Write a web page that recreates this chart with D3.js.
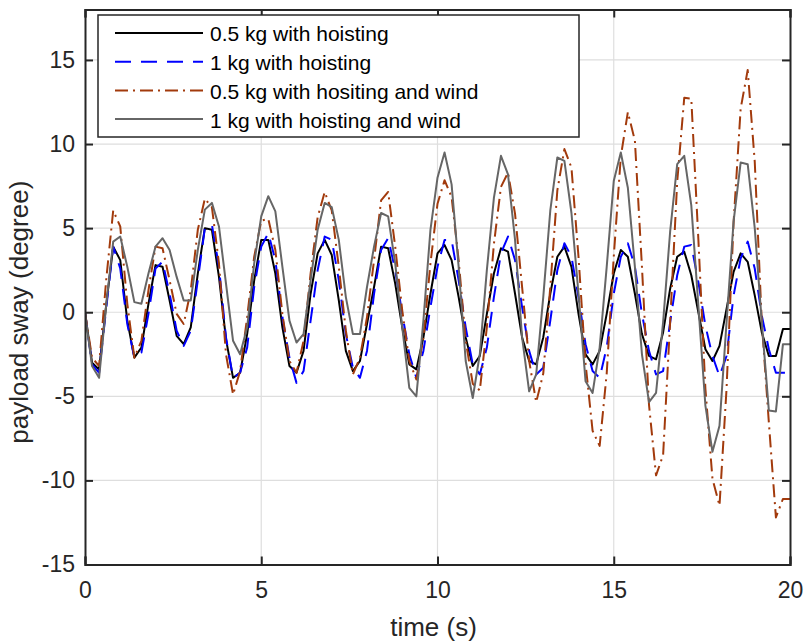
<!DOCTYPE html>
<html>
<head>
<meta charset="utf-8">
<script src="https://cdn.jsdelivr.net/npm/d3@7"></script>
<style>
  body { margin: 0; background: #fff; }
  svg { display: block; font-family: "Liberation Sans", Arial, sans-serif; }
</style>
</head>
<body>
<div id="chart"></div>
<script>
// sample times: 0 to 20 s, every 0.2 s
const dt = 0.2;

// payload sway (degree) per series, one value per sample
const sway05 = [
  0, -3.0, -3.4, 0.4, 3.9, 3.1, -0.5, -2.7, -2.1, 0.5,
  2.8, 2.7, 0.7, -1.4, -1.9, -0.9, 2.3, 5.0, 4.9, 2.1,
  -1.6, -3.9, -3.6, -1.3, 1.9, 4.3, 4.3, 2.3, -0.9, -3.2,
  -3.6, -2.3, 1.1, 3.5, 4.3, 3.4, 0.7, -2.3, -3.5, -2.9,
  -0.7, 1.5, 3.9, 3.8, 1.7, -0.9, -3.1, -3.4, -1.5, 1.1,
  3.5, 4.0, 3.1, 0.9, -1.5, -3.2, -2.6, -0.1, 2.3, 3.8,
  3.6, 1.1, -1.5, -2.9, -3.1, -1.5, 1.1, 3.3, 3.9, 2.7,
  -0.1, -2.5, -3.1, -2.3, -0.1, 2.3, 3.7, 3.3, 1.1, -1.3,
  -2.6, -2.8, -1.2, 1.4, 3.3, 3.6, 2.2, 0.0, -2.2, -2.9,
  -2.0, 0.2, 2.4, 3.5, 3.0, 1.0, -1.2, -2.6, -2.6, -1.0,
  -1.0
];
const sway1 = [
  0, -3.1, -3.6, 0.2, 3.9, 2.6, -0.7, -2.7, -2.4, -0.1,
  2.6, 3.0, 1.1, -1.1, -2.0, -1.1, 1.9, 5.0, 5.2, 2.7,
  -1.5, -3.9, -3.6, -2.1, 1.5, 3.9, 4.7, 3.1, -0.3, -2.7,
  -4.2, -3.5, -0.5, 2.5, 4.5, 4.3, 1.9, -1.3, -3.3, -3.9,
  -2.3, 1.1, 3.7, 4.4, 2.5, -0.1, -2.5, -3.9, -2.3, 0.3,
  2.7, 4.3, 4.3, 1.9, -0.9, -3.1, -3.7, -2.1, 0.9, 3.5,
  4.5, 3.1, 0.3, -2.3, -3.7, -3.3, -0.5, 2.5, 4.1, 3.3,
  0.9, -1.9, -3.5, -3.9, -2.1, 1.1, 3.3, 4.1, 2.7, -0.1,
  -2.3, -3.7, -3.5, -0.6, 2.2, 3.9, 4.0, 1.8, -0.8, -2.6,
  -3.8, -2.6, 1.0, 3.2, 4.2, 2.6, -0.2, -2.2, -3.6, -3.6,
  -3.6
];
const sway05wind = [
  0, -2.7, -3.2, 1.9, 6.05, 5.1, 0.5, -2.7, -1.7, 1.3,
  3.9, 3.8, 1.9, -0.1, -0.7, 1.3, 4.9, 6.75, 6.25, 2.9,
  -2.5, -4.9, -3.5, -0.3, 3.3, 5.45, 5.55, 3.7, -0.1, -2.9,
  -3.6, -1.7, 2.3, 5.65, 7.15, 6.05, 2.7, -1.1, -3.7, -2.7,
  -0.3, 3.1, 6.65, 7.15, 3.9, 0.1, -2.9, -4.0, -1.5, 2.9,
  6.45, 7.85, 6.85, 3.1, -1.7, -4.25, -4.65, -0.9, 4.05, 7.45,
  8.3, 5.85, 1.5, -2.9, -5.35, -3.65, 1.5, 7.25, 9.7, 8.6,
  3.3, -3.05, -7.05, -7.95, -3.65, 3.3, 9.25, 11.9, 10.2, 2.7,
  -5.5, -9.7, -8.5, -0.6, 7.75, 12.75, 12.7, 4.35, -4.55, -9.9,
  -11.5, -4.55, 5.35, 12.1, 14.4, 8.95, -0.6, -6.55, -12.2, -11.1,
  -11.1
];
const sway1wind = [
  0, -3.2, -3.9, 0.4, 4.2, 4.5, 2.7, 0.6, 0.5, 2.3,
  3.9, 4.4, 3.7, 2.1, 0.7, 0.7, 3.7, 6.1, 6.5, 5.1,
  1.7, -1.7, -2.5, -0.9, 2.9, 5.7, 6.9, 6.0, 2.7, -0.5,
  -1.8, -1.3, 1.9, 4.9, 6.5, 6.25, 4.3, 0.9, -1.3, -1.3,
  1.5, 3.9, 5.9, 5.7, 2.9, -0.9, -4.5, -5.0, -0.5, 4.9,
  8.0, 9.5, 7.6, 2.7, -2.9, -5.1, -2.5, 2.5, 6.8, 9.3,
  8.2, 4.3, -1.5, -4.7, -3.7, 0.9, 6.05, 9.2, 9.0, 5.9,
  1.1, -4.1, -4.8, -2.1, 2.7, 7.8, 9.5, 7.4, 2.7, -2.5,
  -5.35, -4.8, -0.6, 4.8, 8.8, 9.3, 6.35, 0.4, -5.55, -8.3,
  -6.75, -0.6, 5.4, 8.9, 8.8, 5.0, -0.6, -5.85, -5.9, -1.9,
  -1.9
];

const seriesNames = [
  "0.5 kg with hoisting",
  "1 kg with hoisting",
  "0.5 kg with hositing and wind",
  "1 kg with hoisting and wind"
];
const seriesValues = [sway05, sway1, sway05wind, sway1wind];
const seriesColors = ["#000000", "#0000ff", "#a23a0c", "#666666"];
const seriesDash = ["none", "16,10", "13,5,2,5", "none"];

const xTicks = [0, 5, 10, 15, 20];
const yTicks = [-15, -10, -5, 0, 5, 10, 15];

const W = 804, H = 641;
const margin = { top: 9.5, right: 14, bottom: 76.5, left: 85 };
const width = W - margin.left - margin.right;
const height = H - margin.top - margin.bottom;

const svg = d3.select("#chart").append("svg")
  .attr("width", W)
  .attr("height", H);

const g = svg.append("g")
  .attr("transform", `translate(${margin.left},${margin.top})`);

const x = d3.scaleLinear().domain([0, 20]).range([0, width]);
const y = d3.scaleLinear().domain([-15, 18]).range([height, 0]);

// grid
g.append("g").selectAll("line")
  .data(xTicks.slice(1, -1))
  .join("line")
  .attr("x1", d => x(d)).attr("x2", d => x(d))
  .attr("y1", 0).attr("y2", height)
  .attr("stroke", "#dedede").attr("stroke-width", 1.2);

g.append("g").selectAll("line")
  .data(yTicks)
  .join("line")
  .attr("x1", 0).attr("x2", width)
  .attr("y1", d => y(d)).attr("y2", d => y(d))
  .attr("stroke", "#dedede").attr("stroke-width", 1.2);

// lines
const line = d3.line()
  .x((d, i) => x(i * dt))
  .y(d => y(d));

svg.append("clipPath").attr("id", "clip")
  .append("rect").attr("width", width).attr("height", height);

const lines = g.append("g").attr("clip-path", "url(#clip)");
seriesValues.forEach((vals, k) => {
  lines.append("path")
    .datum(vals)
    .attr("d", line)
    .attr("fill", "none")
    .attr("stroke", seriesColors[k])
    .attr("stroke-width", 2)
    .attr("stroke-dasharray", seriesDash[k])
    .attr("stroke-linejoin", "round");
});

// axes (ticks inside, box all around)
const tickLen = 8;
const axisColor = "#262626";
const fmt = d => String(d); // plain hyphen minus like the original

const xAxis = d3.axisBottom(x).tickValues(xTicks).tickSize(-tickLen).tickPadding(17).tickFormat(fmt);
const yAxis = d3.axisLeft(y).tickValues(yTicks).tickSize(-tickLen).tickPadding(10).tickFormat(fmt);

const gx = g.append("g").attr("transform", `translate(0,${height})`).call(xAxis);
const gy = g.append("g").call(yAxis);
const gxTop = g.append("g").call(d3.axisTop(x).tickValues(xTicks).tickSize(-tickLen).tickFormat(""));
const gyRight = g.append("g").attr("transform", `translate(${width},0)`)
  .call(d3.axisRight(y).tickValues(yTicks).tickSize(-tickLen).tickFormat(""));

[gx, gy, gxTop, gyRight].forEach(a => {
  a.select(".domain").attr("stroke", axisColor).attr("stroke-width", 2);
  a.selectAll(".tick line").attr("stroke", axisColor).attr("stroke-width", 2);
  a.selectAll(".tick text")
    .attr("fill", axisColor)
    .style("font-size", "23px")
    .style("font-family", "Liberation Sans, Arial, sans-serif");
});

// axis labels
g.append("text")
  .attr("x", width / 2 - 4)
  .attr("y", height + 71)
  .attr("text-anchor", "middle")
  .attr("fill", axisColor)
  .style("font-size", "26px")
  .text("time (s)");

g.append("text")
  .attr("transform", "rotate(-90)")
  .attr("x", -y(0))
  .attr("y", -57)
  .attr("text-anchor", "middle")
  .attr("fill", axisColor)
  .style("font-size", "26px")
  .text("payload sway (degree)");

// legend
const legend = svg.append("g").attr("transform", "translate(98,15)");
legend.append("rect")
  .attr("width", 481)
  .attr("height", 122)
  .attr("fill", "#fff")
  .attr("stroke", axisColor)
  .attr("stroke-width", 1.5);

seriesNames.forEach((name, k) => {
  const row = legend.append("g").attr("transform", `translate(0,${18 + k * 28.7})`);
  row.append("line")
    .attr("x1", 17).attr("x2", 105)
    .attr("stroke", seriesColors[k])
    .attr("stroke-width", 2)
    .attr("stroke-dasharray", seriesDash[k]);
  row.append("text")
    .attr("x", 112)
    .attr("dy", "0.4em")
    .attr("fill", "#000")
    .style("font-size", "21px")
    .text(name);
});
</script>
</body>
</html>
